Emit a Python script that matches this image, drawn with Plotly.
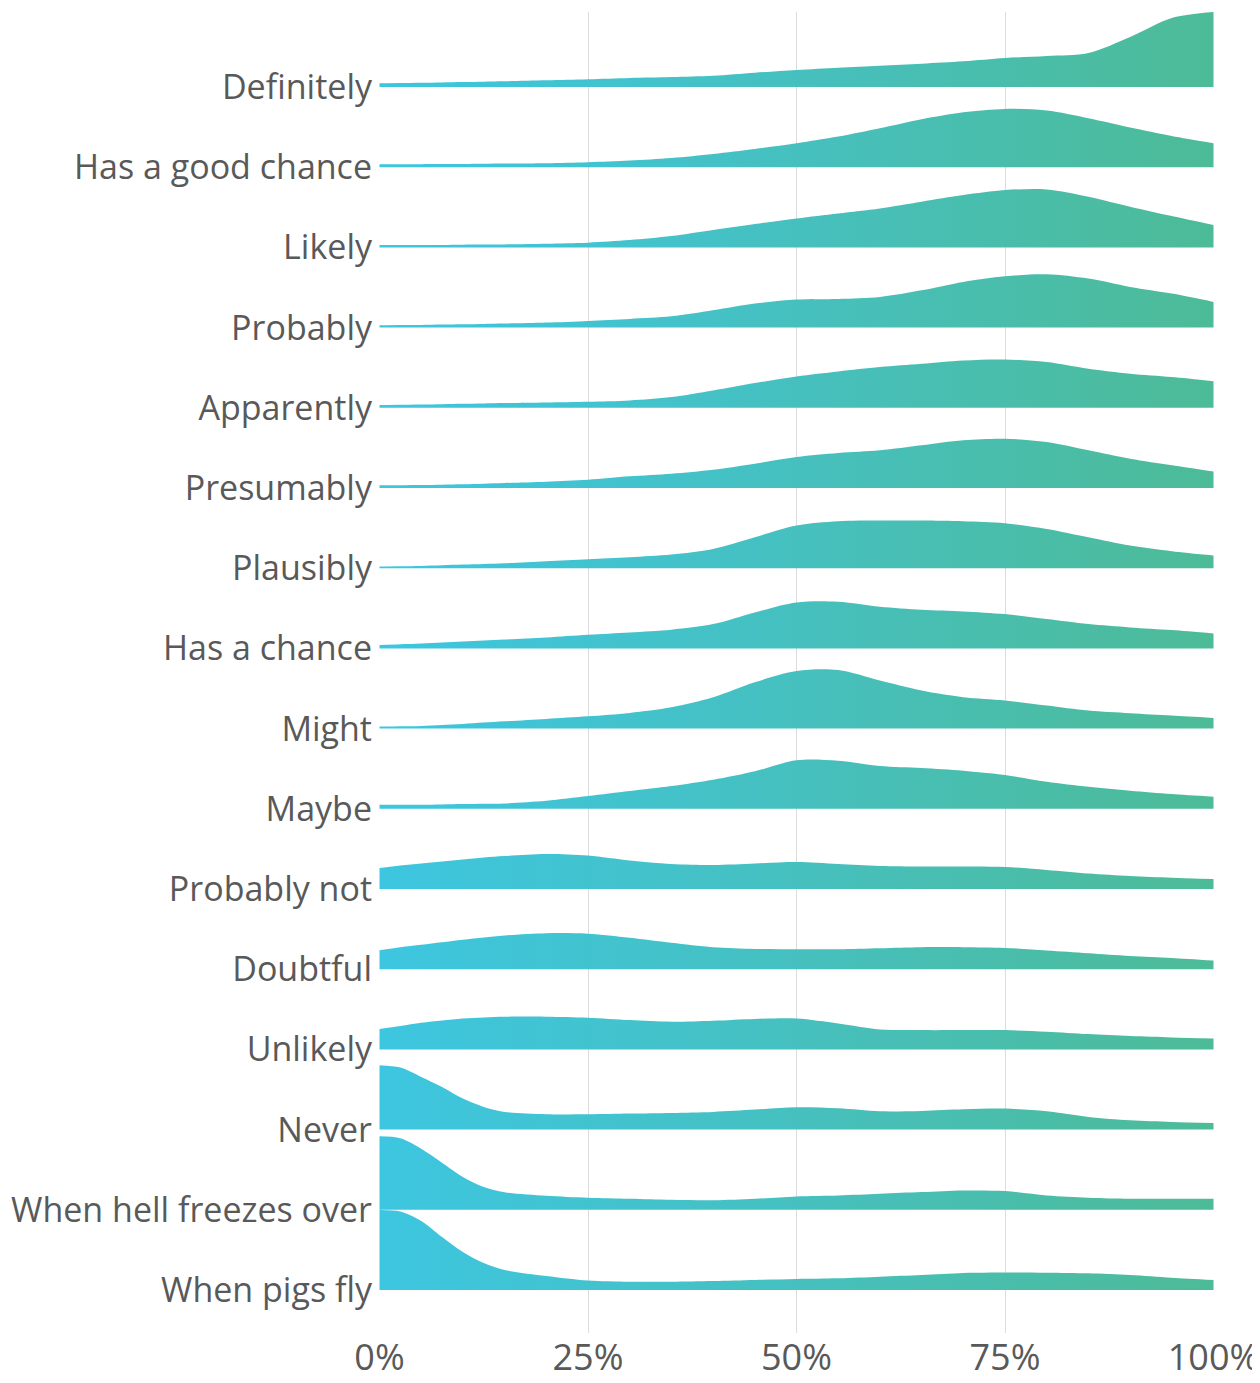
import plotly.graph_objects as go

# x positions (percent) at which each density curve was read
pct = [0, 2.5, 5, 7.5, 10, 12.5, 15, 20, 25, 30, 35, 40, 45, 50, 55, 60, 65, 70, 75, 80, 85, 90, 95, 100]

# ridge heights (relative density)
definitely = [3.7, 4.0, 4.3, 4.6, 5.0, 5.3, 5.7, 6.7, 7.7, 9.0, 10.0, 11.3, 14.3, 17.0, 19.3, 21.3, 23.3, 25.7, 29.0, 31.0, 34.0, 50.0, 69.0, 75.0]
good_chance = [3.0, 3.0, 3.0, 3.1, 3.3, 3.5, 3.7, 4.0, 5.0, 6.7, 9.3, 13.3, 18.3, 24.0, 30.7, 39.0, 48.0, 55.0, 58.3, 56.7, 49.0, 39.7, 31.3, 24.0]
likely = [2.3, 2.3, 2.3, 2.5, 2.7, 2.8, 3.0, 3.7, 4.7, 7.3, 11.3, 17.3, 23.3, 29.0, 34.0, 39.0, 45.7, 52.3, 57.3, 58.0, 50.7, 40.7, 31.3, 22.3]
probably = [2.3, 2.5, 2.7, 3.0, 3.3, 3.6, 4.0, 5.0, 6.7, 8.7, 11.3, 17.3, 24.0, 28.0, 28.7, 30.7, 37.3, 45.7, 51.3, 53.3, 49.0, 40.7, 34.0, 25.7]
apparently = [2.7, 3.0, 3.3, 3.6, 4.0, 4.3, 4.7, 5.3, 6.0, 7.3, 10.7, 17.3, 24.7, 31.3, 36.3, 40.7, 44.0, 47.3, 48.3, 45.7, 39.0, 34.0, 30.7, 26.5]
presumably = [2.7, 2.8, 3.0, 3.3, 3.7, 4.3, 5.0, 6.3, 8.3, 11.7, 14.3, 18.3, 24.3, 31.0, 35.0, 37.7, 42.7, 47.7, 49.3, 46.0, 37.7, 29.3, 22.7, 16.5]
plausibly = [1.7, 2.0, 2.3, 3.0, 3.7, 4.3, 5.0, 7.0, 9.0, 11.0, 13.7, 19.3, 31.0, 42.7, 47.0, 47.7, 47.7, 47.0, 45.0, 39.3, 31.0, 22.7, 17.0, 12.7]
has_chance = [3.3, 4.2, 5.0, 6.0, 7.0, 8.0, 9.0, 11.0, 13.7, 16.0, 18.7, 24.3, 36.0, 46.0, 46.7, 41.7, 38.7, 37.0, 34.3, 29.3, 24.3, 21.0, 18.3, 15.0]
might = [2.0, 2.3, 2.7, 3.6, 4.7, 6.0, 7.3, 9.7, 12.3, 15.7, 21.3, 31.3, 46.3, 57.5, 58.5, 48.0, 38.0, 31.3, 28.0, 23.0, 18.0, 15.3, 13.0, 10.7]
maybe = [4.0, 4.0, 4.0, 4.3, 4.7, 5.0, 5.3, 8.0, 12.7, 17.7, 22.7, 29.0, 37.5, 48.5, 48.0, 42.7, 40.7, 38.0, 33.7, 27.0, 22.0, 18.0, 14.7, 12.0]
probably_not = [21.0, 23.5, 25.5, 27.5, 29.5, 31.5, 33.0, 35.0, 33.5, 28.5, 25.0, 24.0, 25.5, 27.0, 25.0, 23.0, 22.5, 22.5, 22.0, 19.0, 15.5, 13.0, 11.3, 10.0]
doubtful = [19.0, 22.0, 24.5, 27.0, 29.5, 31.7, 33.7, 36.0, 35.5, 31.5, 26.5, 22.0, 20.3, 20.0, 20.0, 21.0, 22.0, 22.0, 21.3, 18.7, 16.0, 13.3, 11.3, 8.7]
unlikely = [20.5, 23.5, 26.7, 29.0, 31.0, 32.0, 32.7, 32.7, 31.7, 29.3, 27.7, 28.7, 30.5, 31.0, 26.0, 20.0, 19.3, 19.3, 19.3, 17.7, 15.3, 13.3, 12.0, 11.0]
never = [64.3, 62.0, 52.7, 42.7, 31.0, 22.7, 17.7, 15.3, 15.3, 16.0, 16.7, 17.7, 20.0, 22.3, 21.3, 18.3, 18.7, 20.3, 21.0, 18.3, 12.7, 9.3, 7.7, 6.7]
hell_freezes = [73.5, 71.5, 61.0, 47.0, 32.7, 22.7, 17.5, 14.0, 12.0, 11.0, 10.0, 9.5, 11.0, 13.3, 14.3, 16.0, 17.7, 19.3, 18.7, 14.3, 12.0, 11.0, 11.0, 11.0]
pigs_fly = [80.0, 78.5, 69.0, 53.0, 38.0, 27.0, 20.0, 14.0, 9.5, 8.3, 8.3, 9.0, 10.0, 11.0, 11.7, 13.3, 15.0, 17.0, 17.5, 17.3, 16.7, 15.0, 12.3, 10.0]

categories = ["Definitely", "Has a good chance", "Likely", "Probably", "Apparently",
              "Presumably", "Plausibly", "Has a chance", "Might", "Maybe",
              "Probably not", "Doubtful", "Unlikely", "Never",
              "When hell freezes over", "When pigs fly"]
series = [definitely, good_chance, likely, probably, apparently, presumably, plausibly,
          has_chance, might, maybe, probably_not, doubtful, unlikely, never,
          hell_freezes, pigs_fly]

x_tickvals = [0, 25, 50, 75, 100]
x_ticktext = ["0%", "25%", "50%", "75%", "100%"]

ROW_STEP = 80.2
gradient = dict(type="horizontal", start=0, stop=100,
                colorscale=[[0, "#3DC6E0"], [0.5, "#46C0BF"], [1, "#4DBB97"]])

fig = go.Figure()
baselines = []
for i, (name, vals) in enumerate(zip(categories, series)):
    base = -i * ROW_STEP
    baselines.append(base)
    fig.add_trace(go.Scatter(x=pct, y=[base] * len(pct), mode="lines",
                             line=dict(width=0, color="rgba(0,0,0,0)"),
                             hoverinfo="skip", showlegend=False))
    fig.add_trace(go.Scatter(x=pct, y=[base + v for v in vals], mode="lines",
                             line=dict(width=0, shape="spline", smoothing=0.9, color="rgba(0,0,0,0)"),
                             fill="tonexty", fillgradient=gradient,
                             name=name, showlegend=False))

# page body has an 8px margin, so the figure is 8px smaller and margins shifted
fig.update_layout(
    width=1252, height=1375,
    margin=dict(l=371, r=46, t=4, b=50, autoexpand=False),
    plot_bgcolor="white", paper_bgcolor="white",
    font=dict(family="Open Sans", color="#595959"),
    showlegend=False,
    xaxis=dict(range=[-0.06, 100.06], tickvals=x_tickvals, ticktext=x_ticktext,
               showgrid=True, gridcolor="#dcdcdc", gridwidth=1,
               zeroline=False, showline=False, ticks="", automargin=False,
               tickfont=dict(size=36), ticklabelstandoff=0,
               ticklabeloverflow="allow"),
    yaxis=dict(range=[-1246, 75], tickvals=baselines, ticktext=categories,
               showgrid=False, zeroline=False, showline=False, ticks="", automargin=False,
               tickfont=dict(size=34), ticklabelstandoff=6),
)

# faint scrollbar strip at the right edge of the screenshot (page pixels -> paper)
def px_x(p):
    return (p - 379) / 835.0

def px_y(p):
    return (1333 - p) / 1321.0

fig.add_shape(type="line", xref="paper", yref="paper",
              x0=px_x(1253), x1=px_x(1253), y0=px_y(8), y1=px_y(1187),
              line=dict(color="#e8e8e8", width=1))
fig.add_shape(type="rect", xref="paper", yref="paper",
              x0=px_x(1253), x1=px_x(1260), y0=px_y(1187), y1=px_y(1383),
              fillcolor="#e0e0e0", line=dict(width=0))

fig.write_html("out.html")
